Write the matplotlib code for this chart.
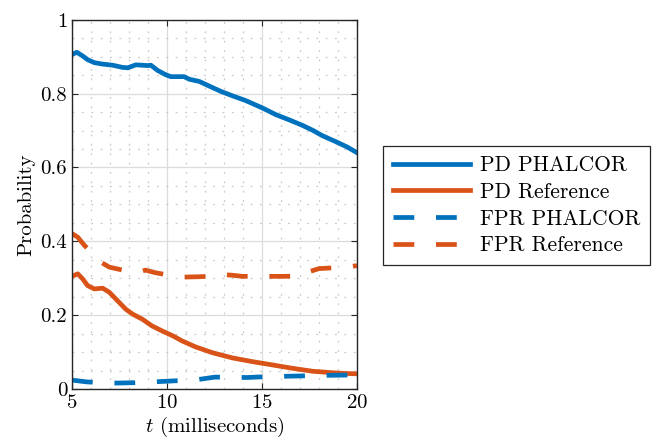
import numpy as np
import matplotlib.pyplot as plt
from matplotlib.ticker import MultipleLocator

plt.rcParams['font.family'] = 'serif'
plt.rcParams['font.serif'] = ['cmr10']
plt.rcParams['mathtext.fontset'] = 'cm'
plt.rcParams['axes.formatter.use_mathtext'] = True

# PD PHALCOR
t_pd_ph = [5.0, 5.25, 5.56, 5.82, 6.17, 6.61, 7.14, 7.66, 7.93, 8.36, 8.98, 9.15, 9.5, 9.94,
           10.2, 10.9, 11.17, 11.7, 12.2, 12.84, 13.45, 14.15, 15.03, 15.73, 16.43, 17.13,
           17.66, 18.18, 18.88, 19.5, 20.0]
pd_ph = [0.906, 0.912, 0.902, 0.892, 0.884, 0.880, 0.877, 0.871, 0.870, 0.878, 0.876, 0.877,
         0.863, 0.851, 0.846, 0.846, 0.839, 0.833, 0.821, 0.806, 0.794, 0.781, 0.761, 0.743,
         0.729, 0.714, 0.701, 0.686, 0.670, 0.655, 0.640]

# PD Reference
t_pd_ref = [5.0, 5.3, 5.56, 5.82, 6.17, 6.61, 6.96, 7.3, 7.83, 8.18, 8.7, 9.2, 9.75, 10.3,
            10.8, 11.5, 12.4, 13.45, 14.5, 15.56, 16.6, 17.66, 18.7, 19.4, 20.0]
pd_ref = [0.305, 0.312, 0.298, 0.280, 0.271, 0.273, 0.262, 0.244, 0.216, 0.203, 0.189, 0.171,
          0.157, 0.144, 0.130, 0.114, 0.098, 0.084, 0.074, 0.065, 0.056, 0.048, 0.044, 0.042,
          0.041]

# FPR PHALCOR
t_fpr_ph = [5.0, 5.8, 6.6, 7.4, 8.3, 9.2, 10.0, 10.8, 11.7, 12.5, 13.4, 14.2, 15.1, 16.8,
            18.5, 20.0]
fpr_ph = [0.024, 0.019, 0.017, 0.016, 0.017, 0.019, 0.021, 0.023, 0.026, 0.032, 0.032,
          0.031, 0.033, 0.035, 0.037, 0.038]

# FPR Reference
t_fpr_ref = [5.0, 5.3, 5.65, 6.1, 6.53, 6.96, 7.4, 8.0, 8.5, 8.86, 9.38, 10.0, 10.8, 11.7,
             12.5, 12.9, 13.45, 13.96, 15.2, 16.1, 16.96, 17.5, 18.0, 18.7, 19.4, 20.0]
fpr_ref = [0.421, 0.411, 0.389, 0.365, 0.343, 0.330, 0.325, 0.318, 0.316, 0.322, 0.315,
           0.309, 0.303, 0.304, 0.306, 0.310, 0.308, 0.305, 0.305, 0.305, 0.306, 0.318,
           0.326, 0.328, 0.330, 0.334]

blue = '#0072BD'
orange = '#D95319'

fig = plt.figure(figsize=(6.55, 4.4), dpi=100)
ax = fig.add_axes([0.110, 0.116, 0.435, 0.839])

lw = 3.4
ax.plot(t_pd_ph, pd_ph, color=blue, lw=lw, label='PD PHALCOR')
ax.plot(t_pd_ref, pd_ref, color=orange, lw=lw, label='PD Reference')
ax.plot(t_fpr_ph, fpr_ph, color=blue, lw=lw, dashes=(4.4, 4.6), label='FPR PHALCOR')
ax.plot(t_fpr_ref, fpr_ref, color=orange, lw=lw, dashes=(4.4, 4.6), label='FPR Reference')

ax.set_xlim(5, 20)
ax.set_ylim(0, 1)
ax.xaxis.set_major_locator(MultipleLocator(5))
ax.xaxis.set_minor_locator(MultipleLocator(1))
ax.yaxis.set_minor_locator(MultipleLocator(0.05))
ax.set_yticks([0, 0.2, 0.4, 0.6, 0.8, 1])
ax.set_yticklabels(['0', '0.2', '0.4', '0.6', '0.8', '1'])

# grille façon MATLAB : majeure pleine, mineure pointillée
ax.grid(which='major', color='#dcdcdc', lw=0.9)
ax.grid(which='minor', color='#cacaca', lw=0.9, linestyle=(0, (1.5, 6)))
ax.set_axisbelow(True)
ax.tick_params(which='both', direction='in', top=True, right=True, labelsize=15)
ax.tick_params(which='major', length=4, width=0.8, color='#262626')
ax.tick_params(which='minor', length=0)
for s in ax.spines.values():
    s.set_color('#262626')
    s.set_linewidth(1.0)

ax.set_xlabel('$t$ (milliseconds)', fontsize=15, labelpad=2)
ax.set_ylabel('Probability', fontsize=15, labelpad=4)

leg = fig.legend(loc='center left', bbox_to_anchor=(383 / 655, 1 - 205.5 / 440),
                 borderaxespad=0, fontsize=15.5, frameon=True, fancybox=False,
                 framealpha=1, edgecolor='#262626', handlelength=3.6, handletextpad=0.45,
                 labelspacing=0.33, borderpad=0.45)
leg.get_frame().set_linewidth(0.9)

fig.savefig('out.png', dpi=100)
